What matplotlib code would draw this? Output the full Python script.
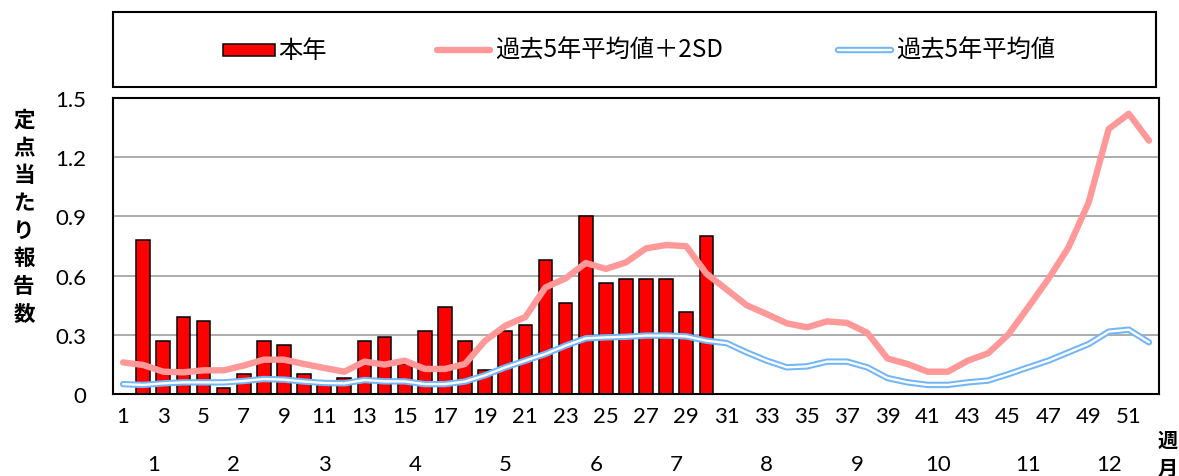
import numpy as np
import matplotlib.pyplot as plt
from matplotlib.patches import Rectangle
from matplotlib.lines import Line2D

plt.rcParams['font.family'] = ['Lato', 'Noto Sans CJK JP', 'DejaVu Sans']

# 週番号 1..52
weeks = np.arange(1, 53)

# 本年 (週1〜30)
this_year = [0.0, 0.78, 0.27, 0.39, 0.37, 0.03, 0.10, 0.27, 0.25, 0.10,
             0.05, 0.08, 0.27, 0.29, 0.15, 0.32, 0.44, 0.27, 0.12, 0.32,
             0.35, 0.68, 0.46, 0.90, 0.56, 0.585, 0.585, 0.585, 0.415, 0.80]

# 過去5年平均値＋2SD
mean_2sd = [0.16, 0.147, 0.113, 0.11, 0.12, 0.12, 0.144, 0.174, 0.174, 0.152,
            0.132, 0.113, 0.164, 0.149, 0.169, 0.127, 0.127, 0.152, 0.27, 0.346,
            0.39, 0.54, 0.586, 0.664, 0.634, 0.667, 0.738, 0.755, 0.749, 0.61,
            0.53, 0.45, 0.405, 0.358, 0.338, 0.368, 0.36, 0.31, 0.18, 0.152,
            0.113, 0.113, 0.169, 0.206, 0.30, 0.44, 0.583, 0.743, 0.97, 1.343,
            1.42, 1.284]

# 過去5年平均値
mean_5y = [0.05, 0.046, 0.054, 0.059, 0.059, 0.059, 0.066, 0.076, 0.073, 0.063,
           0.056, 0.054, 0.071, 0.064, 0.064, 0.05, 0.05, 0.063, 0.095, 0.135,
           0.169, 0.203, 0.245, 0.282, 0.287, 0.29, 0.296, 0.296, 0.292, 0.27,
           0.258, 0.211, 0.169, 0.135, 0.14, 0.164, 0.164, 0.135, 0.081, 0.059,
           0.046, 0.046, 0.059, 0.068, 0.10, 0.135, 0.169, 0.211, 0.253, 0.316,
           0.326, 0.262]

months = ['1', '2', '3', '4', '5', '6', '7', '8', '9', '10', '11', '12']
month_pos = [2.5, 6.5, 11, 15.5, 20, 24.5, 28.5, 33, 37.5, 41.5, 46, 50]

BLUE = '#72B6F8'
PINK = '#FF9999'
JP = ['Noto Sans CJK JP', 'DejaVu Sans']

fig = plt.figure(figsize=(11.79, 4.77), dpi=100)
ax = fig.add_axes([113 / 1179, 1 - 395 / 477, 1046 / 1179, 296 / 477])

ax.bar(weeks[:len(this_year)], this_year, width=0.68, color='#FF0000',
       edgecolor='black', linewidth=1.1, zorder=2)
ax.plot(weeks, mean_2sd, color=PINK, lw=4.6, solid_capstyle='round',
        solid_joinstyle='round', zorder=3)
ax.plot(weeks, mean_5y, color=BLUE, lw=4.6, solid_capstyle='round',
        solid_joinstyle='round', zorder=4)
ax.plot(weeks, mean_5y, color='white', lw=1.7, solid_capstyle='round',
        solid_joinstyle='round', zorder=5)

ax.set_xlim(0.5, 52.5)
ax.set_ylim(0, 1.5)
ax.set_yticks([0, 0.3, 0.6, 0.9, 1.2, 1.5])
ax.set_yticklabels(['0', '0.3', '0.6', '0.9', '1.2', '1.5'])
ax.set_xticks(weeks[::2])
ax.set_xticklabels([str(w) for w in weeks[::2]])
ax.tick_params(axis='both', length=0, labelsize=16)
ax.tick_params(axis='x', pad=9)
ax.tick_params(axis='y', pad=19)
ax.grid(axis='y', color='#A6A6A6', lw=1.3, zorder=0)
ax.set_axisbelow(True)
for s in ax.spines.values():
    s.set_linewidth(1.5)
    s.set_color('black')

for m, p in zip(months, month_pos):
    ax.text(p, -0.236, m, transform=ax.get_xaxis_transform(), ha='center',
            va='center', fontsize=16)

ax.text(1.0086, -0.152, '週', transform=ax.transAxes, ha='center', va='center',
        fontsize=14.5, family=JP, fontweight='bold')
ax.text(1.0086, -0.247, '月', transform=ax.transAxes, ha='center', va='center',
        fontsize=14.5, family=JP, fontweight='bold')

fig.text(24 / 1179, 1 - 217 / 477, '\n'.join('定点当たり報告数'), ha='center',
         va='center', fontsize=15.5, linespacing=1.4, family=JP,
         fontweight='bold')

# 凡例の枠
fig.patches.append(Rectangle((113 / 1179, 1 - 88 / 477), 1043 / 1179, 75 / 477,
                             transform=fig.transFigure, fill=False,
                             edgecolor='black', lw=1.5))
ly = 1 - 51 / 477
fig.patches.append(Rectangle((223 / 1179, 1 - 57 / 477), 52 / 1179, 12 / 477,
                             transform=fig.transFigure, facecolor='#FF0000',
                             edgecolor='black', lw=1.1))
fig.text(278 / 1179, ly, '本年', ha='left', va='center', fontsize=17.5,
         family=JP)
fig.lines.append(Line2D([437 / 1179, 490 / 1179], [ly, ly], transform=fig.transFigure,
                        color=PINK, lw=4.6, solid_capstyle='round'))
fig.text(495 / 1179, ly, '過去5年平均値＋2SD', ha='left', va='center', fontsize=17.5,
         family=JP)
fig.lines.append(Line2D([838 / 1179, 891 / 1179], [ly, ly], transform=fig.transFigure,
                        color=BLUE, lw=4.6, solid_capstyle='round'))
fig.lines.append(Line2D([838 / 1179, 891 / 1179], [ly, ly], transform=fig.transFigure,
                        color='white', lw=1.7, solid_capstyle='round'))
fig.text(896 / 1179, ly, '過去5年平均値', ha='left', va='center', fontsize=17.5,
         family=JP)

fig.savefig('out.png', dpi=100)
